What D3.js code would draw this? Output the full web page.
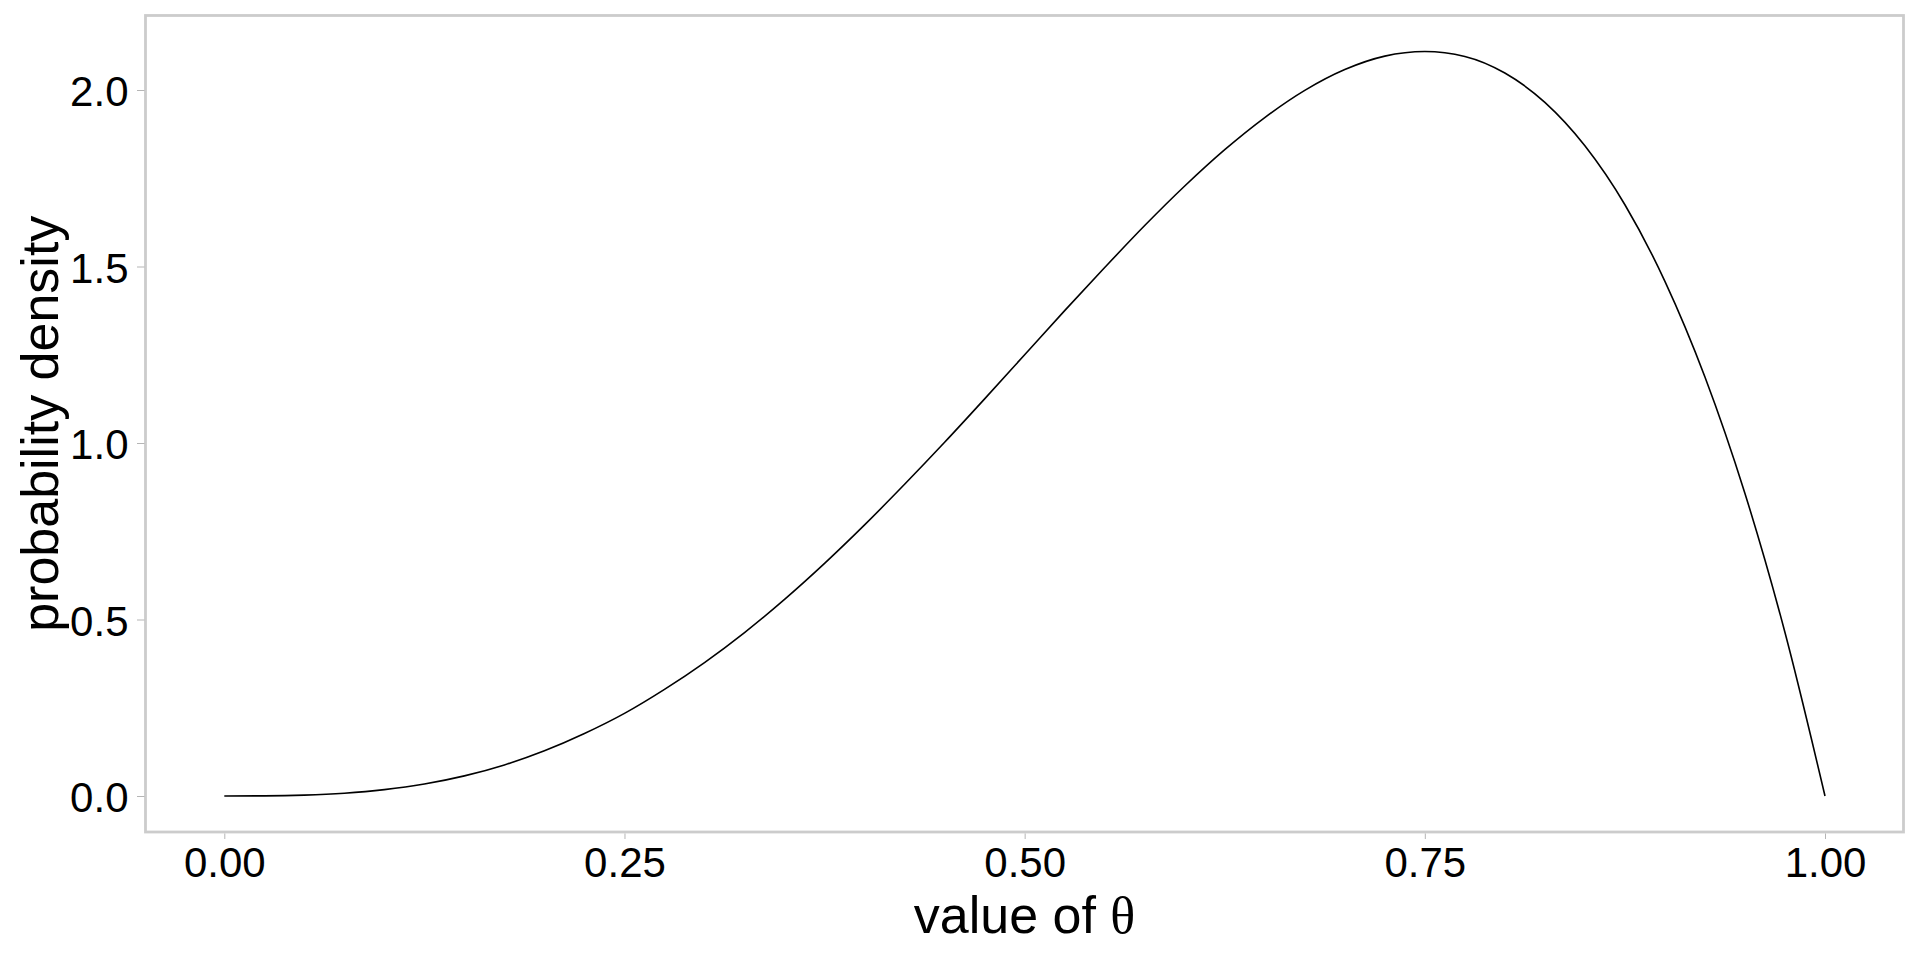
<!DOCTYPE html>
<html><head><meta charset="utf-8">
<script src="https://cdn.jsdelivr.net/npm/d3@7"></script>
<style>body{margin:0;background:#fff}svg{display:block}</style>
</head><body>
<script>
// values
const thetaValues = [0,0.025,0.05,0.075,0.1,0.125,0.15,0.175,0.2,0.225,0.25,0.275,0.3,0.325,0.35,0.375,0.4,0.425,0.45,0.475,0.5,0.525,0.55,0.575,0.6,0.625,0.65,0.675,0.7,0.725,0.75,0.775,0.8,0.825,0.85,0.875,0.9,0.925,0.95,0.975,1];
const densityValues = [0,0.0003,0.0024,0.0078,0.018,0.034,0.057,0.088,0.128,0.177,0.234,0.302,0.378,0.463,0.557,0.659,0.768,0.883,1.002,1.125,1.25,1.375,1.497,1.616,1.728,1.831,1.922,1.999,2.058,2.096,2.109,2.095,2.048,1.965,1.842,1.675,1.458,1.187,0.857,0.463,0];
const xTicks = [0,0.25,0.5,0.75,1];
const xTickLabels = ["0.00","0.25","0.50","0.75","1.00"];
const yTicks = [0,0.5,1,1.5,2];
const yTickLabels = ["0.0","0.5","1.0","1.5","2.0"];
const xTitle = "value of ";
const xTitleSymbol = "θ";
const yTitle = "probability density";

const W = 1920, H = 960;
const svg = d3.select("body").append("svg").attr("width", W).attr("height", H);
const x = d3.scaleLinear().domain([0,1]).range([224.3,1825]);
const y = d3.scaleLinear().domain([0,2]).range([796,90]);
const font = "'Liberation Sans', Arial, sans-serif";

// panel border
svg.append("rect").attr("x",145.5).attr("y",15.5).attr("width",1903.5-145.5).attr("height",832-15.5)
  .attr("fill","none").attr("stroke","#cccccc").attr("stroke-width",2.8);

// x axis
const xAxis = d3.axisBottom(x).tickValues(xTicks).tickFormat((d,i)=>xTickLabels[i]).tickSize(5.5).tickPadding(0);
const gx = svg.append("g").attr("transform","translate(0,833.5)").call(xAxis);
gx.select(".domain").remove();
gx.selectAll(".tick line").attr("stroke","#b5b5b5").attr("stroke-width",1);
gx.selectAll(".tick text").attr("font-family",font).attr("font-size",42).attr("fill","#000")
  .attr("dy",null).attr("y",43.5);

// y axis
const yAxis = d3.axisLeft(y).tickValues(yTicks).tickFormat((d,i)=>yTickLabels[i]).tickSize(7.5).tickPadding(0);
const gy = svg.append("g").attr("transform","translate(144.5,0)").call(yAxis);
gy.select(".domain").remove();
gy.selectAll(".tick line").attr("stroke","#b5b5b5").attr("stroke-width",1);
gy.selectAll(".tick text").attr("font-family",font).attr("font-size",42).attr("fill","#000")
  .attr("dy",null).attr("x",-16).attr("y",15.5).attr("text-anchor","end");

// curve
const data = thetaValues.map((t,i)=>({t, d:densityValues[i]}));
const line = d3.line().x(d=>x(d.t)).y(d=>y(d.d)).curve(d3.curveMonotoneX);
svg.append("path").datum(data).attr("d",line).attr("fill","none").attr("stroke","#000").attr("stroke-width",1.6);

// titles
const xt = svg.append("text").attr("x",(145.5+1903.5)/2).attr("y",933).attr("text-anchor","middle")
  .attr("font-family",font).attr("font-size",52).attr("fill","#000");
xt.append("tspan").text(xTitle);
xt.append("tspan").attr("font-family","'Liberation Serif','Times New Roman',serif").text(xTitleSymbol);

svg.append("text").attr("transform",`translate(58,${(15.5+832)/2}) rotate(-90)`).attr("text-anchor","middle")
  .attr("font-family",font).attr("font-size",52).attr("fill","#000").text(yTitle);
</script>
</body></html>
